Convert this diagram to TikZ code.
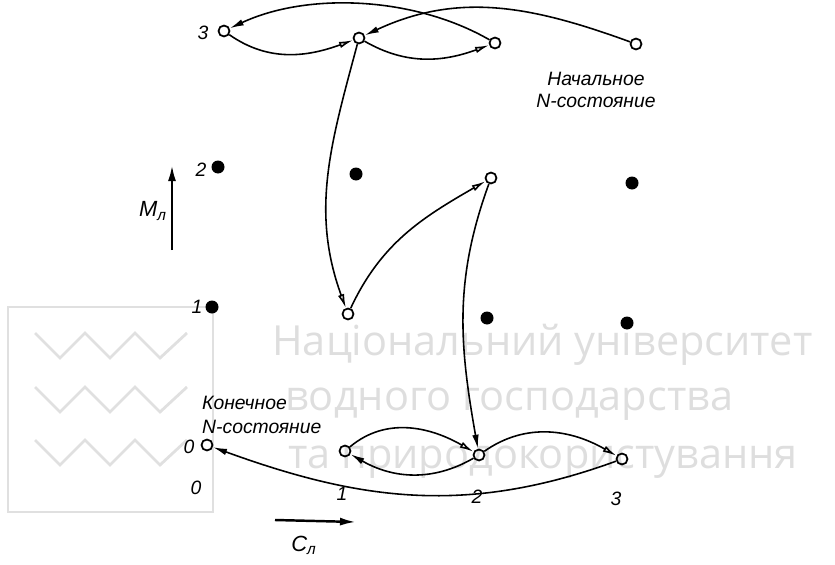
\documentclass[tikz,border=0pt]{standalone}
\usepackage{fontspec}
\setmainfont{Liberation Sans}
\newfontfamily\wmfont{Open Sans}
\usetikzlibrary{arrows.meta,positioning}

\begin{document}
\begin{tikzpicture}[x=0.2mm,y=0.2mm,
    every node/.style={font=\itshape\fontsize{11}{13}\selectfont},
    occ/.style={circle,draw,line width=1pt,minimum size=2.2mm,inner sep=0pt},
    dot/.style={circle,fill,minimum size=2.6mm,inner sep=0pt},
    hop/.style={line width=0.9pt,-{Latex[length=2.8mm,width=1.3mm]}},
    jmp/.style={line width=0.9pt,-{Latex[open,length=2.8mm,width=1.3mm]}},
    axis/.style={line width=1.4pt,-{Latex[length=3.2mm,width=1.6mm]}},
    wm/.style={font=\wmfont\fontsize{23.6}{23.6}\selectfont,text=black!13,anchor=base west,inner sep=0pt},
    wmline/.style={black!12,line width=1.6pt}]
  \useasboundingbox (0,0) rectangle (835,-565);
  % watermark
  \draw[wmline] (8,-307) rectangle (213,-512);
  \foreach \y in {333,387,440}
    \draw[wmline] (35,-\y) -- (60,-\y-25) -- (85,-\y) -- (110,-\y-25) -- (135,-\y) -- (160,-\y-25) -- (187,-\y);
  \node[wm] (wm1) at (272,-355) {Національний університет};
  \node[wm] (wm2) at (285,-410) {водного господарства};
  \node[wm] (wm3) at (288,-468) {та природокористування};
  % states n<C><M>
  \foreach \c/\m/\x/\y/\s in {0/3/224/31/occ,1/3/359/38/occ,2/3/495/43/occ,3/3/636/44/occ,
                              0/2/218/167/dot,1/2/356/174/dot,2/2/491/178/occ,3/2/632/183/dot,
                              0/1/212/307/dot,1/1/348/314/occ,2/1/487/318/dot,3/1/627/323/dot,
                              0/0/207/445/occ,1/0/345/451/occ,2/0/479/455/occ,3/0/622/459/occ}
    \node[\s] (n\c\m) at (\x,-\y) {};
  % row and column numbers
  \foreach \m/\x/\y in {3/203/33,2/201/170,1/197/307,0/189/447}
    \node (row\m) at (\x,-\y) {\m};
  \foreach \c/\x/\y in {0/196/488,1/342/494,2/477/497,3/616/499}
    \node (col\c) at (\x,-\y) {\c};
  % texts
  \node[align=center] (start) at (596,-90) {Начальное\\N-состояние};
  \node[align=left,anchor=west,font=\itshape\fontsize{11}{14}\selectfont] (final) at (196,-415)
    {Конечное\\N-состояние};
  % axes
  \coordinate (mlo) at (172,-250);
  \coordinate (mhi) at (172,-165);
  \draw[axis] (mlo) -- (mhi);
  \node[font=\itshape\fontsize{12.5}{14}\selectfont] (ml) at (153,-211) {M\textsubscript{л}};
  \coordinate (clo) at (275,-520);
  \coordinate (chi) at (356,-522);
  \draw[axis] (clo) -- (chi);
  \node[font=\itshape\fontsize{12.5}{14}\selectfont] (cl) at (304,-545) {C\textsubscript{л}};
  % path of the N-state
  \draw[hop] (n33) to[out=160,in=25] (n13);
  \draw[jmp] (n13) to[out=-30,in=-160] (n23);
  \draw[hop] (n23) to[out=150,in=25,looseness=0.85] (n03);
  \draw[jmp] (n03) to[out=-35,in=-160] (n13);
  \draw[jmp] (n13) to[out=-105,in=110] (n11);
  \draw[jmp] (n11) to[out=65,in=-150] (n22);
  \draw[hop] (n22) to[out=-110,in=100] (n20);
  \draw[hop] (n20) to[out=-150,in=-30] (n10);
  \draw[jmp] (n10) to[out=40,in=150] (n20);
  \draw[jmp] (n20) to[out=35,in=150] (n30);
  \draw[hop] (n30) to[out=-160,in=-20] (n00);
\end{tikzpicture}
\end{document}
